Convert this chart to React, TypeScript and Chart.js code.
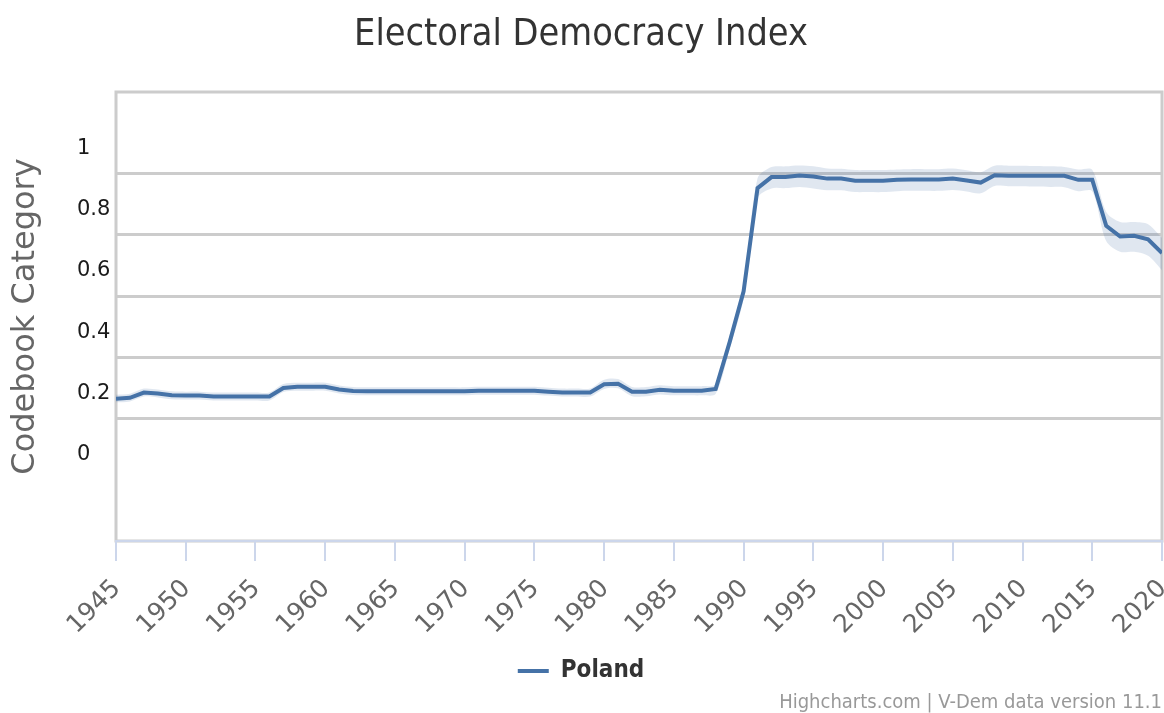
import React, { useEffect, useRef } from "react";
import { Chart, registerables } from "chart.js";

Chart.register(...registerables);

const years = [
  1945, 1946, 1947, 1948, 1949, 1950, 1951, 1952, 1953, 1954, 1955, 1956, 1957, 1958, 1959,
  1960, 1961, 1962, 1963, 1964, 1965, 1966, 1967, 1968, 1969, 1970, 1971, 1972, 1973, 1974,
  1975, 1976, 1977, 1978, 1979, 1980, 1981, 1982, 1983, 1984, 1985, 1986, 1987, 1988, 1989,
  1990, 1991, 1992, 1993, 1994, 1995, 1996, 1997, 1998, 1999, 2000, 2001, 2002, 2003, 2004,
  2005, 2006, 2007, 2008, 2009, 2010, 2011, 2012, 2013, 2014, 2015, 2016, 2017, 2018, 2019,
  2020,
];

const polandValues = [
  0.165, 0.168, 0.185, 0.182, 0.176, 0.175, 0.175, 0.172, 0.172, 0.172, 0.172, 0.172, 0.2, 0.204, 0.204,
  0.204, 0.195, 0.19, 0.189, 0.189, 0.189, 0.189, 0.189, 0.189, 0.189, 0.189, 0.191, 0.191, 0.191, 0.191,
  0.191, 0.188, 0.185, 0.185, 0.185, 0.212, 0.214, 0.188, 0.188, 0.194, 0.191, 0.191, 0.191, 0.197, 0.35,
  0.516, 0.853, 0.889, 0.889, 0.894, 0.891, 0.884, 0.884, 0.877, 0.877, 0.877, 0.88, 0.881, 0.881, 0.881,
  0.884, 0.878, 0.871, 0.895, 0.893, 0.893, 0.893, 0.893, 0.893, 0.88, 0.88, 0.73, 0.695, 0.697, 0.686,
  0.641,
];

const polandHigh = [
  0.178, 0.181, 0.198, 0.195, 0.189, 0.188, 0.188, 0.185, 0.185, 0.185, 0.185, 0.185, 0.213, 0.217, 0.217,
  0.217, 0.208, 0.203, 0.202, 0.202, 0.202, 0.202, 0.202, 0.202, 0.202, 0.202, 0.204, 0.204, 0.204, 0.204,
  0.204, 0.201, 0.198, 0.198, 0.198, 0.227, 0.229, 0.203, 0.203, 0.209, 0.206, 0.206, 0.206, 0.213, 0.372,
  0.54, 0.885, 0.922, 0.924, 0.927, 0.924, 0.917, 0.916, 0.912, 0.912, 0.912, 0.914, 0.915, 0.915, 0.915,
  0.917, 0.911, 0.905, 0.926, 0.926, 0.926, 0.925, 0.924, 0.922, 0.914, 0.913, 0.775, 0.742, 0.742, 0.735,
  0.69,
];

const polandLow = [
  0.153, 0.156, 0.172, 0.169, 0.163, 0.162, 0.162, 0.159, 0.159, 0.159, 0.159, 0.159, 0.187, 0.191, 0.191,
  0.191, 0.182, 0.177, 0.176, 0.176, 0.176, 0.176, 0.176, 0.176, 0.176, 0.176, 0.178, 0.178, 0.178, 0.178,
  0.178, 0.175, 0.172, 0.172, 0.172, 0.197, 0.199, 0.173, 0.173, 0.179, 0.176, 0.176, 0.176, 0.181, 0.328,
  0.492, 0.82, 0.852, 0.853, 0.857, 0.852, 0.846, 0.846, 0.84, 0.84, 0.84, 0.843, 0.844, 0.844, 0.844,
  0.847, 0.842, 0.836, 0.86, 0.859, 0.859, 0.858, 0.857, 0.856, 0.843, 0.842, 0.68, 0.645, 0.645, 0.632,
  0.585,
];

const xTickYears = [1945, 1950, 1955, 1960, 1965, 1970, 1975, 1980, 1985, 1990, 1995, 2000, 2005, 2010, 2015, 2020];
const yLabelValues = [0, 0.2, 0.4, 0.6, 0.8, 1];
const yLabelTexts = ["0", "0.2", "0.4", "0.6", "0.8", "1"];
const yGridValues = [0.1, 0.3, 0.5, 0.7, 0.9];

const AXIS_FONT = "'DejaVu Sans', 'Open Sans', sans-serif";
const COND_FONT = "'DejaVu Sans Condensed', 'Liberation Sans Narrow', 'DejaVu Sans', sans-serif";

const plotBorder = {
  id: "plotBorder",
  beforeDraw(chart: any) {
    const { ctx, chartArea } = chart;
    const { left, top, right, bottom } = chartArea;
    ctx.save();
    ctx.strokeStyle = "#cccccc";
    ctx.lineWidth = 3;
    ctx.strokeRect(left, top, right - left, bottom - top);
    ctx.restore();
  },
};

const isGridValue = (v: number) => yGridValues.some((g) => Math.abs(g - v) < 1e-6);

export default function App() {
  const canvasRef = useRef<HTMLCanvasElement | null>(null);

  useEffect(() => {
    if (!canvasRef.current) return;
    const toPoints = (arr: number[]) => years.map((yr, i) => ({ x: yr, y: arr[i] }));
    const chart = new Chart(canvasRef.current, {
      type: "line",
      data: {
        datasets: [
          {
            label: "Poland",
            data: toPoints(polandValues),
            borderColor: "#4572a7",
            backgroundColor: "#4572a7",
            borderWidth: 4,
            pointRadius: 0,
            tension: 0,
            fill: false,
          },
          {
            label: "high",
            data: toPoints(polandHigh),
            borderWidth: 0,
            borderColor: "rgba(0,0,0,0)",
            backgroundColor: "rgba(69,114,167,0.17)",
            pointRadius: 0,
            tension: 0.3,
            fill: "+1",
          },
          {
            label: "low",
            data: toPoints(polandLow),
            borderWidth: 0,
            borderColor: "rgba(0,0,0,0)",
            backgroundColor: "rgba(69,114,167,0.17)",
            pointRadius: 0,
            tension: 0.3,
            fill: false,
          },
        ],
      },
      options: {
        responsive: true,
        maintainAspectRatio: false,
        animation: false,
        layout: { padding: { left: 0, right: 2, top: 0, bottom: 0 } },
        plugins: {
          tooltip: { enabled: false },
          title: {
            display: true,
            text: "Electoral Democracy Index",
            color: "#333333",
            font: { family: COND_FONT, size: 37.5, weight: "normal" },
            padding: { top: 12.5, bottom: 34.5 },
          },
          subtitle: {
            display: true,
            text: "Highcharts.com | V-Dem data version 11.1",
            position: "bottom",
            align: "end",
            color: "#999999",
            font: { family: COND_FONT, size: 20, weight: "normal", lineHeight: 1 },
            padding: { top: 0, bottom: 0 },
          },
          legend: {
            display: true,
            position: "bottom",
            labels: {
              filter: (item: any) => item.text === "Poland",
              usePointStyle: true,
              pointStyle: "line",
              pointStyleWidth: 31,
              boxHeight: 24,
              color: "#333333",
              font: { family: COND_FONT, size: 24, weight: "bold" },
              padding: 10,
            },
          },
        },
        scales: {
          x: {
            type: "linear",
            min: 1945,
            max: 2020,
            afterBuildTicks: (scale: any) => {
              scale.ticks = xTickYears.map((v) => ({ value: v }));
            },
            afterFit: (scale: any) => {
              scale.height = 108;
              scale.paddingLeft = 0;
              scale.paddingRight = 0;
            },
            ticks: {
              autoSkip: false,
              maxRotation: 45,
              minRotation: 45,
              color: "#666666",
              font: { family: AXIS_FONT, size: 25 },
              padding: 13,
              labelOffset: 1,
              callback: (v: any) => String(v),
            },
            grid: {
              drawOnChartArea: false,
              drawTicks: true,
              tickLength: 20,
              color: "#ccd6eb",
              lineWidth: 2,
            },
            border: { display: true, color: "#ccd6eb", width: 2 },
          },
          y: {
            type: "linear",
            position: "left",
            weight: 0,
            min: -0.3,
            max: 1.167,
            afterBuildTicks: (scale: any) => {
              const vals = [...yLabelValues, ...yGridValues].sort((a, b) => a - b);
              scale.ticks = vals.map((v) => ({ value: v }));
            },
            afterFit: (scale: any) => {
              scale.width = 39;
            },
            ticks: {
              color: "#1a1a1a",
              font: { family: AXIS_FONT, size: 21 },
              crossAlign: "far",
              labelOffset: 5.5,
              padding: 0,
              callback: (v: any) => {
                const idx = yLabelValues.findIndex((l) => Math.abs(l - v) < 1e-6);
                return idx >= 0 ? yLabelTexts[idx] : "";
              },
            },
            grid: {
              drawTicks: false,
              lineWidth: 3,
              color: (ctx: any) => (ctx.tick && isGridValue(ctx.tick.value) ? "#cccccc" : "rgba(0,0,0,0)"),
            },
            border: { display: false },
          },
          yTitle: {
            type: "linear",
            position: "left",
            weight: 1,
            display: true,
            afterFit: (scale: any) => {
              scale.width = 77;
            },
            ticks: { display: false },
            grid: { display: false, drawTicks: false },
            border: { display: false },
            title: {
              display: true,
              text: "Codebook Category",
              color: "#666666",
              font: { family: AXIS_FONT, size: 32, weight: "normal" },
              padding: { top: 6, bottom: 0 },
            },
          },
        },
      },
      plugins: [plotBorder],
    } as any);
    return () => chart.destroy();
  }, []);

  return (
    <div style={{ position: "fixed", left: 0, top: 0, width: 1164, height: 713, background: "#ffffff" }}>
      <canvas ref={canvasRef} />
    </div>
  );
}
